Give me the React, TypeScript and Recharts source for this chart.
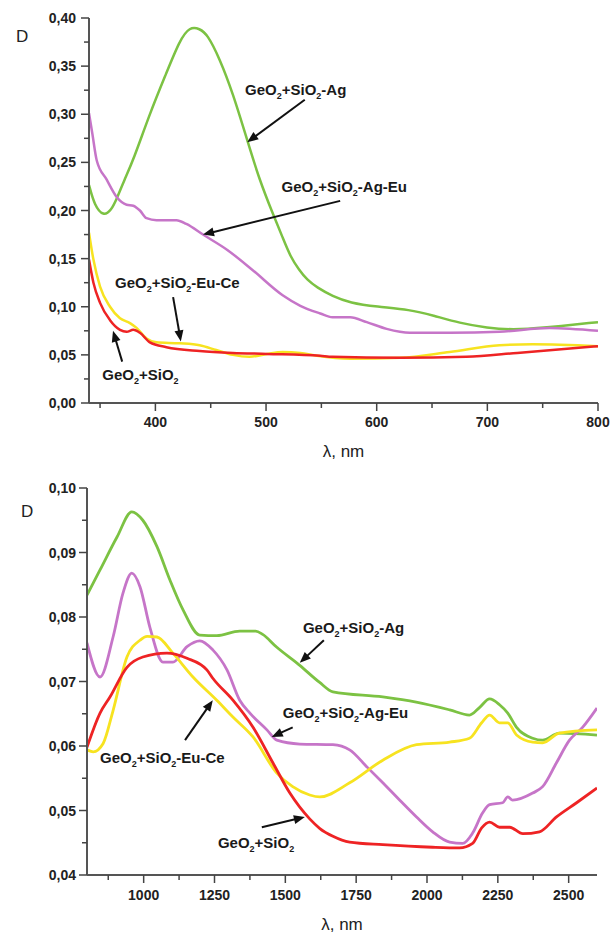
import React from 'react';
import { LineChart, Line, XAxis, YAxis, ReferenceLine, ReferenceDot } from 'recharts';

type P = [number, number];

// ---------- Top chart (visible range) ----------
const topAg: P[] = [[340,0.2265],[345,0.205],[353,0.194],[360,0.2],[365,0.212],[372,0.232],[380,0.252],[395,0.301],[410,0.343],[422,0.377],[431,0.391],[440,0.389],[447,0.383],[458,0.358],[470,0.322],[483,0.273],[494,0.232],[506,0.197],[515,0.172],[522,0.152],[530,0.138],[537,0.128],[546,0.12],[560,0.111],[576,0.104],[600,0.1],[630,0.097],[651,0.091],[675,0.083],[700,0.078],[723,0.076],[750,0.078],[800,0.084]];
const topAgEu: P[] = [[340,0.301],[343,0.28],[347,0.252],[356,0.232],[365,0.214],[374,0.206],[380,0.205],[386,0.2],[392,0.192],[401,0.19],[419,0.19],[428,0.186],[443,0.175],[465,0.159],[488,0.138],[515,0.112],[531,0.101],[549,0.093],[560,0.089],[576,0.089],[591,0.084],[609,0.077],[630,0.073],[666,0.073],[711,0.074],[756,0.078],[800,0.075]];
const topEuCe: P[] = [[340,0.177],[344,0.149],[350,0.121],[359,0.1],[368,0.088],[377,0.083],[383,0.078],[392,0.067],[401,0.063],[422,0.062],[440,0.06],[455,0.055],[470,0.05],[485,0.048],[501,0.051],[515,0.053],[531,0.052],[546,0.049],[576,0.046],[621,0.047],[666,0.053],[711,0.06],[741,0.061],[800,0.059]];
const topBase: P[] = [[340,0.149],[344,0.125],[350,0.104],[359,0.086],[368,0.076],[374,0.074],[380,0.076],[386,0.073],[395,0.063],[410,0.058],[440,0.054],[470,0.052],[501,0.051],[549,0.049],[560,0.048],[621,0.047],[681,0.048],[727,0.052],[800,0.059]];

const topXTicks = [350,400,450,500,550,600,650,700,750,800];
const topYTicks = [0,0.025,0.05,0.075,0.1,0.125,0.15,0.175,0.2,0.225,0.25,0.275,0.3,0.325,0.35,0.375,0.4];

// ---------- Bottom chart (IR range) ----------
const botAg: P[] = [[800,0.0834],[846,0.0873],[906,0.0924],[958,0.0963],[997,0.095],[1047,0.0909],[1093,0.0857],[1139,0.0811],[1198,0.0772],[1258,0.0771],[1339,0.0778],[1395,0.0778],[1420,0.0773],[1470,0.0753],[1551,0.0725],[1620,0.0699],[1668,0.0684],[1844,0.0676],[1962,0.0668],[2080,0.0656],[2150,0.0648],[2186,0.066],[2221,0.0673],[2256,0.0664],[2285,0.0651],[2316,0.0629],[2373,0.0612],[2408,0.0609],[2467,0.062],[2600,0.0617]];
const botAgEu: P[] = [[800,0.076],[846,0.0707],[892,0.0769],[927,0.0837],[958,0.0868],[987,0.0847],[1022,0.0784],[1068,0.073],[1103,0.073],[1153,0.0754],[1198,0.0763],[1244,0.0749],[1294,0.0718],[1339,0.0671],[1375,0.0651],[1435,0.0625],[1470,0.0609],[1551,0.0603],[1668,0.0602],[1727,0.0594],[1787,0.0568],[1844,0.0543],[1904,0.0516],[1963,0.049],[2020,0.0467],[2080,0.0451],[2126,0.0449],[2161,0.0465],[2196,0.0496],[2221,0.0509],[2267,0.0512],[2285,0.0521],[2302,0.0516],[2373,0.0527],[2408,0.0537],[2457,0.0574],[2503,0.0609],[2549,0.0629],[2600,0.0659]];
const botEuCe: P[] = [[800,0.0594],[822,0.0591],[857,0.0604],[892,0.0655],[941,0.0738],[987,0.0764],[1012,0.077],[1047,0.0769],[1103,0.0744],[1174,0.0707],[1258,0.0671],[1315,0.0645],[1386,0.0614],[1470,0.0558],[1526,0.0537],[1586,0.0524],[1622,0.0521],[1727,0.0543],[1844,0.0578],[1963,0.0602],[2080,0.0606],[2150,0.0612],[2193,0.0636],[2221,0.0648],[2256,0.0636],[2285,0.0636],[2316,0.0617],[2373,0.0606],[2408,0.0605],[2467,0.062],[2600,0.0625]];
const botBase: P[] = [[800,0.0598],[846,0.0651],[881,0.0676],[941,0.0722],[997,0.0738],[1082,0.0744],[1153,0.0736],[1223,0.0718],[1244,0.0705],[1315,0.0671],[1386,0.0629],[1456,0.0574],[1516,0.0527],[1586,0.0487],[1622,0.0472],[1668,0.046],[1727,0.0451],[1844,0.0447],[2020,0.0443],[2115,0.0442],[2161,0.0449],[2193,0.0473],[2221,0.0482],[2256,0.0474],[2292,0.0474],[2338,0.0464],[2397,0.0467],[2457,0.049],[2528,0.0512],[2600,0.0535]];

const botXTicks = [875,1000,1125,1250,1375,1500,1625,1750,1875,2000,2125,2250,2375,2500];
const botYTicks = [0.04,0.045,0.05,0.055,0.06,0.065,0.07,0.075,0.08,0.085,0.09,0.095,0.1];

// Annotations: label anchor (left/baseline) and arrow (from -> tip), in data units
type Note = { suffix: string; tl: number; td: number; a: [number, number, number, number] };
const topNotes: Note[] = [
  { suffix: '-Ag', tl: 481, td: 0.32, a: [535, 0.315, 483, 0.271] },
  { suffix: '-Ag-Eu', tl: 514, td: 0.219, a: [567, 0.21, 443, 0.175] },
  { suffix: '-Eu-Ce', tl: 363.5, td: 0.119, a: [416, 0.11, 423, 0.064] },
  { suffix: '', tl: 352, td: 0.024, a: [370, 0.043, 361.7, 0.075] },
];
const botNotes: Note[] = [
  { suffix: '-Ag', tl: 1562, td: 0.0775, a: [1636, 0.0764, 1551, 0.0729] },
  { suffix: '-Ag-Eu', tl: 1491, td: 0.0643, a: [1526, 0.0629, 1452, 0.0614] },
  { suffix: '-Eu-Ce', tl: 846, td: 0.0574, a: [1146, 0.0609, 1244, 0.0671] },
  { suffix: '', tl: 1262, td: 0.0442, a: [1417, 0.0474, 1569, 0.049] },
];

const C_AG = '#7cc243';
const C_AGEU = '#c675c8';
const C_EUCE = '#f7e320';
const C_BASE = '#ee2324';

const FONT = '"Liberation Sans", Arial, sans-serif';
const toRows = (pts: P[]) => pts.map(([l, d]) => ({ l, d }));
const fmt = (v: number) => v.toFixed(2).replace('.', ',');

const Formula = ({ cx, cy, suffix }: any) => (
  <text x={cx} y={cy} fontFamily={FONT} fontWeight="bold" fontSize={15} fill="#1a1a1a">
    <tspan>GeO</tspan>
    <tspan fontSize={9} dy={4}>2</tspan>
    <tspan dy={-4}>+SiO</tspan>
    <tspan fontSize={9} dy={4}>2</tspan>
    {suffix ? <tspan dy={-4}>{suffix}</tspan> : null}
  </text>
);

const Arrow = ({ x1, y1, x2, y2 }: any) => {
  const dx = x2 - x1, dy = y2 - y1;
  const len = Math.sqrt(dx * dx + dy * dy) || 1;
  const ux = dx / len, uy = dy / len;
  const hl = 11, hw = 4.5;
  const bx = x2 - ux * hl, by = y2 - uy * hl;
  return (
    <g>
      <line x1={x1} y1={y1} x2={bx + ux * 2} y2={by + uy * 2} stroke="#111" strokeWidth={2} />
      <polygon points={`${x2},${y2} ${bx - uy * hw},${by + ux * hw} ${bx + uy * hw},${by - ux * hw}`} fill="#111" />
    </g>
  );
};

const makeYTick = (isMajor: (v: number) => boolean, gap: number) => (props: any) => {
  const { x, y, payload } = props;
  const v = payload.value;
  const m = isMajor(v);
  return (
    <g>
      <line x1={x - (m ? 8 : 5)} y1={y} x2={x} y2={y} stroke="#444" strokeWidth={1.5} />
      {m ? (
        <text x={x - gap} y={y + 5} textAnchor="end" fontFamily={FONT} fontWeight="bold" fontSize={14} fill="#222">
          {fmt(v)}
        </text>
      ) : null}
    </g>
  );
};

const makeXTick = (isMajor: (v: number) => boolean, off: number) => (props: any) => {
  const { x, y, payload } = props;
  const v = payload.value;
  const m = isMajor(v);
  return (
    <g>
      <line x1={x} y1={y} x2={x} y2={y + (m ? 8 : 5)} stroke="#444" strokeWidth={1.5} />
      {m ? (
        <text x={x} y={y + off} textAnchor="middle" fontFamily={FONT} fontWeight="bold" fontSize={14} fill="#222">
          {v}
        </text>
      ) : null}
    </g>
  );
};

const xTitle = (dy: number) => (props: any) => {
  const vb = props.viewBox || {};
  return (
    <text x={vb.x + vb.width / 2} y={vb.y + dy} textAnchor="middle" fontFamily={FONT} fontSize={17} fill="#222">
      λ, nm
    </text>
  );
};

const yTitle = (dx: number, dy: number) => (props: any) => {
  const vb = props.viewBox || {};
  return (
    <text x={vb.x + dx} y={vb.y + dy} fontFamily={FONT} fontSize={17} fill="#222">
      D
    </text>
  );
};

const renderNotes = (notes: Note[], prefix: string) =>
  notes.flatMap((n, i) => [
    <ReferenceLine
      key={`${prefix}a${i}`}
      segment={[{ x: n.a[0], y: n.a[1] }, { x: n.a[2], y: n.a[3] }]}
      ifOverflow="visible"
      shape={(p: any) => <Arrow {...p} />}
    />,
    <ReferenceDot
      key={`${prefix}t${i}`}
      x={n.tl}
      y={n.td}
      ifOverflow="visible"
      shape={(p: any) => <Formula cx={p.cx} cy={p.cy} suffix={n.suffix} />}
    />,
  ]);

const series = (ag: P[], agEu: P[], euCe: P[], base: P[], w: number, agCurve: any) => [
  <Line key="ag" data={toRows(ag)} dataKey="d" type={agCurve} stroke={C_AG} strokeWidth={w} dot={false} isAnimationActive={false} />,
  <Line key="agEu" data={toRows(agEu)} dataKey="d" type="monotone" stroke={C_AGEU} strokeWidth={w} dot={false} isAnimationActive={false} />,
  <Line key="euCe" data={toRows(euCe)} dataKey="d" type="monotone" stroke={C_EUCE} strokeWidth={w} dot={false} isAnimationActive={false} />,
  <Line key="base" data={toRows(base)} dataKey="d" type="monotone" stroke={C_BASE} strokeWidth={w} dot={false} isAnimationActive={false} />,
];

export default function App() {
  return (
    <div style={{ position: 'absolute', left: 0, top: 0, width: 611, height: 934, background: '#fff' }}>
      <LineChart width={611} height={464} margin={{ top: 18, right: 13, bottom: 0, left: 0 }}>
        <XAxis
          dataKey="l"
          type="number"
          domain={[340, 800]}
          allowDataOverflow
          ticks={topXTicks}
          interval={0}
          tickSize={0}
          tickMargin={0}
          tickLine={false}
          height={61}
          axisLine={{ stroke: '#555', strokeWidth: 2 }}
          tick={makeXTick((v) => v % 100 === 0, 24)}
          label={xTitle(54)}
        />
        <XAxis xAxisId="top" orientation="top" type="number" domain={[340, 800]} height={0} tick={false} tickLine={false} axisLine={{ stroke: '#333', strokeWidth: 1.2 }} />
        <YAxis
          type="number"
          domain={[0, 0.4]}
          allowDataOverflow
          ticks={topYTicks}
          interval={0}
          tickSize={0}
          tickMargin={0}
          tickLine={false}
          width={89}
          axisLine={{ stroke: '#555', strokeWidth: 2 }}
          tick={makeYTick((v) => Math.round(v * 1000) % 50 === 0, 13)}
          label={yTitle(16, 24)}
        />
        <YAxis yAxisId="right" orientation="right" type="number" domain={[0, 0.4]} width={0} tick={false} tickLine={false} axisLine={{ stroke: '#333', strokeWidth: 1.2 }} />
        {series(topAg, topAgEu, topEuCe, topBase, 2.5, 'basis')}
        {renderNotes(topNotes, 't')}
      </LineChart>
      <LineChart width={611} height={470} margin={{ top: 24, right: 14, bottom: 0, left: 0 }}>
        <XAxis
          dataKey="l"
          type="number"
          domain={[800, 2600]}
          allowDataOverflow
          ticks={botXTicks}
          interval={0}
          tickSize={0}
          tickMargin={0}
          tickLine={false}
          height={59}
          axisLine={{ stroke: '#555', strokeWidth: 2 }}
          tick={makeXTick((v) => v % 250 === 0, 25)}
          label={xTitle(55)}
        />
        <XAxis xAxisId="top" orientation="top" type="number" domain={[800, 2600]} height={0} tick={false} tickLine={false} axisLine={{ stroke: '#333', strokeWidth: 1.2 }} />
        <YAxis
          type="number"
          domain={[0.04, 0.1]}
          allowDataOverflow
          ticks={botYTicks}
          interval={0}
          tickSize={0}
          tickMargin={0}
          tickLine={false}
          width={87}
          axisLine={{ stroke: '#555', strokeWidth: 2 }}
          tick={makeYTick((v) => Math.round(v * 1000) % 10 === 0, 11)}
          label={yTitle(21, 29)}
        />
        <YAxis yAxisId="right" orientation="right" type="number" domain={[0.04, 0.1]} width={0} tick={false} tickLine={false} axisLine={{ stroke: '#333', strokeWidth: 1.2 }} />
        {series(botAg, botAgEu, botEuCe, botBase, 2.8, 'monotone')}
        {renderNotes(botNotes, 'b')}
      </LineChart>
    </div>
  );
}
